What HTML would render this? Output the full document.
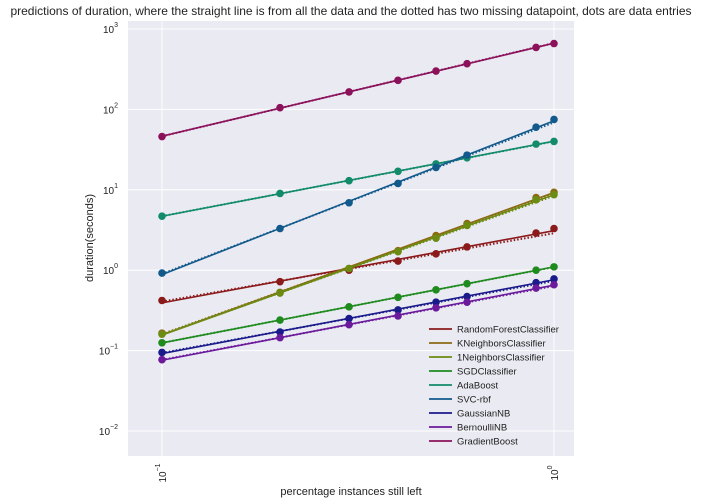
<!DOCTYPE html>
<html><head><meta charset="utf-8">
<style>
body{margin:0;background:#fff;}
svg{display:block;font-family:"Liberation Sans","DejaVu Sans",sans-serif;}
</style></head>
<body>
<svg id="chart" width="702" height="504" viewBox="0 0 702 504">
<text x="351" y="15" font-size="12" text-anchor="middle" fill="#222">predictions of duration, where the straight line is from all the data and the dotted has two missing datapoint, dots are data entries</text>
<rect x="128" y="21" width="446" height="435" fill="#eaeaf2"/>
<g id="grid"></g>
<g id="series"></g>
<g id="axes"></g>
<g id="legend"></g>
<text x="351" y="495" font-size="11" text-anchor="middle" fill="#222">percentage instances still left</text>
<text transform="translate(93,238) rotate(-90)" font-size="11" text-anchor="middle" fill="#222">duration(seconds)</text>
</svg>
<script>
const xValues = [0.1, 0.2, 0.3, 0.4, 0.5, 0.6, 0.9, 1.0];
const seriesNames = ["RandomForestClassifier","KNeighborsClassifier","1NeighborsClassifier","SGDClassifier","AdaBoost","SVC-rbf","GaussianNB","BernoulliNB","GradientBoost"];
const rfValues = [0.42, 0.72, 1.0, 1.3, 1.6, 1.95, 2.9, 3.3];
const knnValues = [0.165, 0.53, 1.05, 1.75, 2.7, 3.8, 8.0, 9.3];
const nn1Values = [0.16, 0.52, 1.05, 1.7, 2.5, 3.6, 7.5, 8.7];
const sgdValues = [0.125, 0.24, 0.35, 0.46, 0.57, 0.68, 1.0, 1.1];
const adaValues = [4.7, 9.0, 13, 17, 21, 25, 37, 40];
const svcValues = [0.92, 3.3, 6.9, 12, 19, 27, 60, 75];
const gnbValues = [0.095, 0.17, 0.25, 0.32, 0.40, 0.47, 0.70, 0.78];
const bnbValues = [0.077, 0.145, 0.21, 0.27, 0.34, 0.40, 0.60, 0.66];
const gbValues = [46, 105, 165, 230, 300, 370, 590, 660];
const seriesColors = ["#8b1a1a","#8b6a12","#6b8b12","#1f8b1f","#128b6b","#125a8b","#1a1a8b","#6a1a9b","#8b125a"];
const yTickExps = [-2, -1, 0, 1, 2, 3];
const xTickExps = [-1, 0];

const allSeries = [rfValues, knnValues, nn1Values, sgdValues, adaValues, svcValues, gnbValues, bnbValues, gbValues];
const NS = "http://www.w3.org/2000/svg";
const X0 = 162, XD = 392, Y0 = 29, YD = 80.4;
function xs(v){ return X0 + (Math.log10(v) + 1) * XD; }
function ys(v){ return Y0 + (3 - Math.log10(v)) * YD; }
function mk(tag, attrs, parent){ const e = document.createElementNS(NS, tag); for (const k in attrs) e.setAttribute(k, attrs[k]); parent.appendChild(e); return e; }

const grid = document.getElementById('grid');
const axes = document.getElementById('axes');
yTickExps.forEach(p => {
  const y = ys(Math.pow(10, p));
  const l = mk('line', {x1:128, x2:574, y1:y, y2:y, stroke:'#fff', 'stroke-width':1}, grid);
  
  
  const t = mk('text', {x:118, y:y+4, 'font-size':10, 'text-anchor':'end', fill:'#222'}, axes);
  
  
  t.textContent = '10';
  const s = mk('tspan', {dy:-6, 'font-size':7}, t);
  s.textContent = p < 0 ? '\u2212' + (-p) : String(p);
});
xTickExps.forEach(p => {
  const x = xs(Math.pow(10, p));
  const l = mk('line', {x1:x, x2:x, y1:21, y2:456, stroke:'#fff', 'stroke-width':1}, grid);
  
  
  const t = mk('text', {transform:`translate(${x+4},473) rotate(-90)`, 'font-size':10, 'text-anchor':'middle', fill:'#222'}, axes);
  
  
  t.textContent = '10';
  const s = mk('tspan', {dy:-6, 'font-size':7}, t);
  s.textContent = p < 0 ? '\u2212' + (-p) : String(p);
});

function fit(xv, yv){
  const lx = xv.map(Math.log10), ly = yv.map(Math.log10), n = lx.length;
  const mx = lx.reduce((a,b)=>a+b)/n, my = ly.reduce((a,b)=>a+b)/n;
  let sxy = 0, sxx = 0;
  for (let i=0;i<n;i++){ sxy += (lx[i]-mx)*(ly[i]-my); sxx += (lx[i]-mx)*(lx[i]-mx); }
  const b = sxy/sxx, a = my - b*mx;
  return x => Math.pow(10, a + b*Math.log10(x));
}

const series = document.getElementById('series');
allSeries.forEach((vals, i) => {
  const c = seriesColors[i];
  const g = mk('g', {}, series);
  
  
  const fAll = fit(xValues, vals);
  const fPart = fit(xValues.slice(0, -2), vals.slice(0, -2));
  const xa = xValues[0], xb = xValues[xValues.length-1];
  const dl = mk('line', {x1:xs(xa), y1:ys(fPart(xa)), x2:xs(xb), y2:ys(fPart(xb)), stroke:c, 'stroke-width':2, 'stroke-dasharray':'1.5,2'}, g);
  
  
  const sl = mk('line', {x1:xs(xa), y1:ys(fAll(xa)), x2:xs(xb), y2:ys(fAll(xb)), stroke:c, 'stroke-width':1.6}, g);
  
  
  vals.forEach((v, j) => {
    const d = mk('circle', {cx:xs(xValues[j]), cy:ys(v), r:3.8, fill:c}, g);
    
    
  });
});

const legend = document.getElementById('legend');


seriesNames.forEach((n, i) => {
  const y = 329 + i*14;
  const g = mk('g', {}, legend);
  
  
  mk('line', {x1:429, x2:452, y1:y, y2:y, stroke:seriesColors[i], 'stroke-width':1.8}, g);
  const t = mk('text', {x:457, y:y+3.5, 'font-size':9.5, fill:'#222'}, g);
  t.textContent = n;
});
</script>
</body></html>
